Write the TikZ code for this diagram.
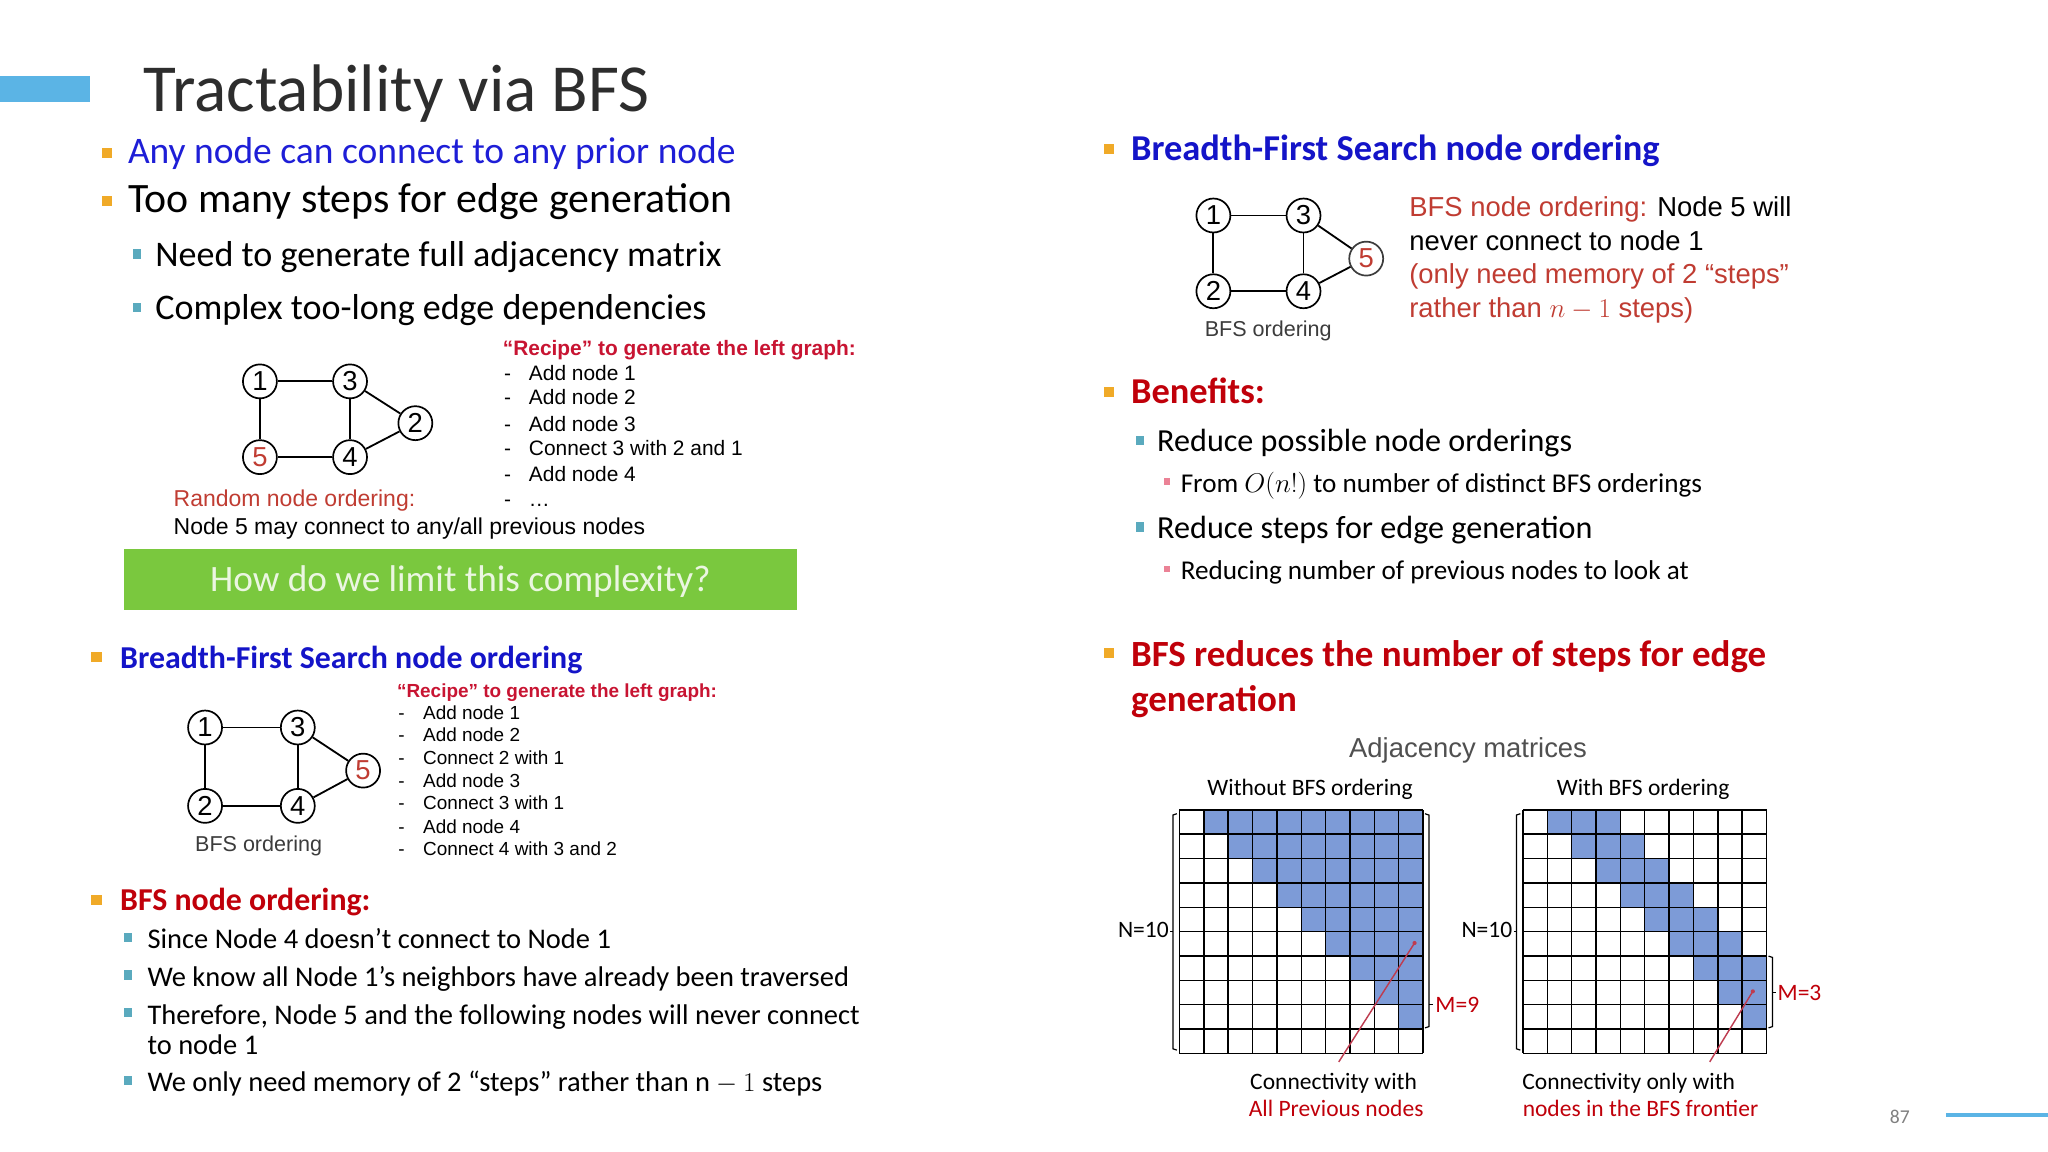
\documentclass[tikz,border=0pt]{standalone}
\usepackage{fontspec}
\setmainfont{Carlito}
\newfontfamily\arial{Liberation Sans}
\newcommand\fz[1]{\fontsize{#1}{#1}\selectfont}
\definecolor{titlebar}{RGB}{91,180,229}
\definecolor{tgray}{RGB}{45,45,45}
\definecolor{bluetxt}{RGB}{30,30,215}
\definecolor{boldblue}{RGB}{20,20,200}
\definecolor{redbold}{RGB}{192,0,10}
\definecolor{arialred}{RGB}{192,60,50}
\definecolor{recipered}{RGB}{200,20,50}
\definecolor{bulorange}{RGB}{240,170,40}
\definecolor{bulteal}{RGB}{90,170,190}
\definecolor{bulpink}{RGB}{235,130,150}
\definecolor{greenbox}{RGB}{122,200,62}
\definecolor{greentxt}{RGB}{235,246,225}
\definecolor{cellblue}{RGB}{125,155,215}
\definecolor{linered}{RGB}{190,60,80}
\definecolor{dgray}{RGB}{60,60,60}
\definecolor{mgray}{RGB}{80,80,80}
\newcommand\bulA[2]{\fill[bulorange] (#1,#2) rectangle ++(8,8);}
\newcommand\bulB[2]{\fill[bulteal] (#1,#2) rectangle ++(6,7);}
\newcommand\bulC[2]{\fill[bulpink] (#1,#2) rectangle ++(5,5);}
\begin{document}
\begin{tikzpicture}[x=1pt,y=-1pt,
  tx/.style={anchor=base west, inner sep=0pt, outer sep=0pt},
  tc/.style={anchor=base, inner sep=0pt, outer sep=0pt},
  gn/.style={circle, draw, line width=1.3pt, minimum size=26pt, inner sep=0pt, font=\arial\fz{21}},
  ge/.style={line width=1.4pt},
  gridl/.style={line width=1.1pt, black},
  brk/.style={line width=0.9pt, black},
  redl/.style={line width=1.1pt, linered}]
\useasboundingbox[fill=white] (0,0) rectangle (1568,882);

% title
\fill[titlebar] (0,58) rectangle (69,78);
\node[tx, text=tgray, font=\fz{51.5}] (title) at (110,85) {Tractability via BFS};

% top-left bullets
\bulA{78}{113}
\node[tx, text=bluetxt, font=\fz{28.7}] (l1) at (98,125) {Any node can connect to any prior node};
\bulA{78}{150}
\node[tx, text=black, font=\fz{32}] (l2) at (98,163) {Too many steps for edge generation};
\bulB{102}{191}
\node[tx, text=black, font=\fz{27.6}] (l3) at (119,204) {Need to generate full adjacency matrix};
\bulB{102}{232}
\node[tx, text=black, font=\fz{27.6}] (l4) at (119,245) {Complex too-long edge dependencies};

% graph A
\node[gn] (A1) at (199,292) {1};
\node[gn] (A3) at (268,292) {3};
\node[gn] (A2) at (318,324) {2};
\node[gn, text=arialred] (A5) at (199,350) {5};
\node[gn] (A4) at (268,350) {4};
\draw[ge] (A1) -- (A3);
\draw[ge] (A1) -- (A5);
\draw[ge] (A3) -- (A4);
\draw[ge] (A3) -- (A2);
\draw[ge] (A5) -- (A4);
\draw[ge] (A4) -- (A2);
\node[tx, text=arialred, font=\arial\fz{17.6}] (rno) at (133,388) {Random node ordering:};
\node[tx, text=black, font=\arial\fz{17.6}] (n5) at (133,409) {Node 5 may connect to any/all previous nodes};

% recipe A
\node[tx, text=recipered, font=\arial\bfseries\fz{16}] (ra) at (385,272) {“Recipe” to generate the left graph:};
\foreach \y/\t [count=\k] in {291/Add node 1, 310/Add node 2, 330/Add node 3, 349/Connect 3 with 2 and 1, 369/Add node 4, 388/\ldots}{
  \node[tx, font=\arial\fz{16}] (rad\k) at (386,\y) {-};
  \node[tx, font=\arial\fz{16}] (rai\k) at (405,\y) {\t};
}

% green box
\fill[greenbox] (95,420) rectangle (610,467);
\node[anchor=center, inner sep=0pt, text=greentxt, font=\fz{28.5}] (gq) at (352.5,445) {How do we limit this complexity?};

% left BFS heading
\bulA{70}{499}
\node[tx, text=boldblue, font=\bfseries\fz{24.4}] (h2) at (92,512) {Breadth-First Search node ordering};

% graph B
\node[gn] (B1) at (157,557) {1};
\node[gn] (B3) at (228,557) {3};
\node[gn, text=arialred] (B5) at (278,590) {5};
\node[gn] (B2) at (157,617) {2};
\node[gn] (B4) at (228,617) {4};
\draw[ge] (B1) -- (B3);
\draw[ge] (B1) -- (B2);
\draw[ge] (B3) -- (B4);
\draw[ge] (B3) -- (B5);
\draw[ge] (B2) -- (B4);
\draw[ge] (B4) -- (B5);
\node[tc, text=dgray, font=\arial\fz{16.5}] (bfsB) at (198,652) {BFS ordering};

% recipe B
\node[tx, text=recipered, font=\arial\bfseries\fz{14.5}] (rb) at (304,534) {“Recipe” to generate the left graph:};
\foreach \y/\t [count=\k] in {551/Add node 1, 568/Add node 2, 585/Connect 2 with 1, 603/Add node 3, 620/Connect 3 with 1, 638/Add node 4, 655/Connect 4 with 3 and 2}{
  \node[tx, font=\arial\fz{14.5}] (rbd\k) at (305,\y) {-};
  \node[tx, font=\arial\fz{14.5}] (rbi\k) at (324,\y) {\t};
}

% BFS node ordering (left bottom)
\bulA{70}{685}
\node[tx, text=redbold, font=\bfseries\fz{24.4}] (h3) at (92,697) {BFS node ordering:};
\bulB{95}{714}
\node[tx, font=\fz{21.8}] (s1) at (113,726) {Since Node 4 doesn’t connect to Node 1};
\bulB{95}{743}
\node[tx, font=\fz{21.8}] (s2) at (113,755) {We know all Node 1’s neighbors have already been traversed};
\bulB{95}{772}
\node[tx, font=\fz{21.8}] (s3) at (113,784) {Therefore, Node 5 and the following nodes will never connect};
\node[tx, font=\fz{21.8}] (s3b) at (113,807) {to node 1};
\bulB{95}{824}
\node[tx, font=\fz{21.8}] (s4) at (113,836) {We only need memory of 2 “steps” rather than $\mathrm{n}-1$ steps};

% right BFS heading
\bulA{845}{110}
\node[tx, text=boldblue, font=\bfseries\fz{27.9}] (h4) at (866,123) {Breadth-First Search node ordering};

% graph C
\node[gn] (C1) at (929,165) {1};
\node[gn] (C3) at (998,165) {3};
\node[gn, draw=dgray, text=arialred] (C5) at (1046,198) {5};
\node[gn] (C2) at (929,223) {2};
\node[gn] (C4) at (998,223) {4};
\draw[ge] (C1) -- (C3);
\draw[ge] (C1) -- (C2);
\draw[ge] (C3) -- (C4);
\draw[ge] (C3) -- (C5);
\draw[ge] (C2) -- (C4);
\draw[ge] (C4) -- (C5);
\node[tc, text=dgray, font=\arial\fz{16.5}] (bfsC) at (971,258) {BFS ordering};

\node[tx, font=\arial\fz{21}] (c1) at (1079,166) {{\color{arialred}BFS node ordering:} Node 5 will};
\node[tx, font=\arial\fz{21}] (c2) at (1079,192) {never connect to node 1};
\node[tx, text=arialred, font=\arial\fz{21}] (c3) at (1079,217) {(only need memory of 2 “steps”};
\node[tx, text=arialred, font=\arial\fz{21}] (c4) at (1079,243) {rather than $n-1$ steps)};

% benefits
\bulA{845}{296}
\node[tx, text=redbold, font=\bfseries\fz{27.9}] (h5) at (866,309) {Benefits:};
\bulB{870}{334}
\node[tx, font=\fz{24.6}] (b1) at (886,346) {Reduce possible node orderings};
\bulC{891}{366}
\node[tx, font=\fz{20.8}] (b2) at (904,377) {From $O(n!)$ to number of distinct BFS orderings};
\bulB{870}{400}
\node[tx, font=\fz{24.6}] (b3) at (886,412) {Reduce steps for edge generation};
\bulC{891}{433}
\node[tx, font=\fz{20.8}] (b4) at (904,444) {Reducing number of previous nodes to look at};

% BFS reduces
\bulA{845}{496}
\node[tx, text=redbold, font=\bfseries\fz{28.3}] (h6) at (866,510) {BFS reduces the number of steps for edge};
\node[tx, text=redbold, font=\bfseries\fz{28.3}] (h6b) at (866,545) {generation};

\node[tc, text=mgray, font=\arial\fz{21}] (adj) at (1124,580) {Adjacency matrices};

% matrix 1
\node[tc, font=\fz{18}] (m1t) at (1003,609) {Without BFS ordering};
\begin{scope}[shift={(903,620)}]
  \foreach \i in {0,...,9}{\foreach \j in {0,...,9}{\ifnum\j>\i\relax \fill[cellblue] (\j*18.65,\i*18.65) rectangle ++(18.65,18.65);\fi}}
  \foreach \k in {0,...,10}{
    \draw[gridl] (\k*18.65,0) -- (\k*18.65,186.5);
    \draw[gridl] (0,\k*18.65) -- (186.5,\k*18.65);
  }
\end{scope}
\draw[brk] (901,623) -- (898,624) -- (898,803) -- (901,804);
\draw[brk] (1091,623) -- (1094,624) -- (1094,786) -- (1091,787);
\draw[brk] (1094,769) -- (1097,769);
\draw[brk] (896,713) -- (898,713);
\node[anchor=base east, inner sep=0pt, font=\fz{18}] (n10a) at (895,718) {N=10};
\node[tx, text=redbold, font=\fz{18}] (m9) at (1099,775) {M=9};
\coordinate (r1a) at (1025,813);
\coordinate (r1b) at (1083,722);
\draw[redl] (r1a) -- (r1b);
\fill[linered] (r1b) circle (1.6);
\node[tc, font=\fz{18}] (cw1) at (1021,834) {Connectivity with};
\node[tc, text=redbold, font=\fz{18}] (cw2) at (1023,855) {All Previous nodes};

% matrix 2
\node[tc, font=\fz{18}] (m2t) at (1258,609) {With BFS ordering};
\begin{scope}[shift={(1166,620)}]
  \foreach \r/\c in {0/1,0/2,0/3,1/2,1/3,1/4,2/3,2/4,2/5,3/4,3/5,3/6,4/5,4/6,4/7,5/6,5/7,5/8,6/7,6/8,6/9,7/8,7/9,8/9}{
    \fill[cellblue] (\c*18.65,\r*18.65) rectangle ++(18.65,18.65);}
  \foreach \k in {0,...,10}{
    \draw[gridl] (\k*18.65,0) -- (\k*18.65,186.5);
    \draw[gridl] (0,\k*18.65) -- (186.5,\k*18.65);
  }
\end{scope}
\draw[brk] (1164,623) -- (1161,624) -- (1161,803) -- (1164,804);
\draw[brk] (1159,713) -- (1161,713);
\draw[brk] (1354,732) -- (1357,733) -- (1357,786) -- (1354,787);
\draw[brk] (1357,760) -- (1360,760);
\node[anchor=base east, inner sep=0pt, font=\fz{18}] (n10b) at (1158,718) {N=10};
\node[tx, text=redbold, font=\fz{18}] (m3) at (1361,766) {M=3};
\coordinate (r2a) at (1309,813);
\coordinate (r2b) at (1342,759);
\draw[redl] (r2a) -- (r2b);
\fill[linered] (r2b) circle (1.6);
\node[tc, font=\fz{18}] (cw3) at (1247,834) {Connectivity only with};
\node[tc, text=redbold, font=\fz{18}] (cw4) at (1256,855) {nodes in the BFS frontier};

% footer
\node[tx, text=gray, font=\fz{15}] (pg) at (1447,860) {87};
\coordinate (fl1) at (1490,854);
\coordinate (fl2) at (1568,854);
\draw[titlebar, line width=3pt] (fl1) -- (fl2);
\end{tikzpicture}
\end{document}
